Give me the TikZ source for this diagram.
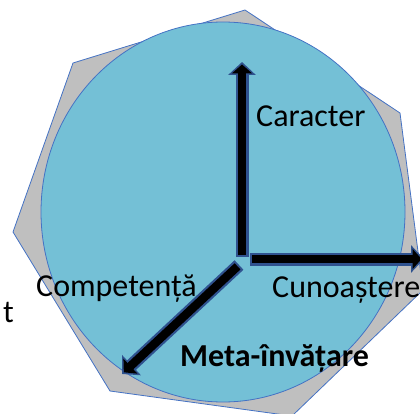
\documentclass[tikz,border=0pt]{standalone}
\usepackage{fontspec}
\setmainfont{Carlito}
\usetikzlibrary{arrows.meta}
\definecolor{wheelblue}{HTML}{74C0D6}
\definecolor{rimgray}{HTML}{BFBFBF}
\definecolor{edgeblue}{HTML}{4472C4}
\definecolor{arrowrim}{HTML}{2F528F}
\begin{document}
\begin{tikzpicture}[x=1pt, y=-1pt, font=\fontsize{32}{38}\selectfont, line join=miter,
    axisrim/.style={arrowrim, line width=13pt, -{Triangle[width=27pt,length=13pt]}},
    axisbar/.style={black, line width=8.5pt, shorten <=2pt, shorten >=2.5pt, -{Triangle[width=20pt,length=9pt]}},
    lbl/.style={anchor=base west, inner sep=0pt}]
    \useasboundingbox (0,0) rectangle (420,414);
    \clip (0,0) rectangle (420,414);
    % heptagon behind the wheel
    \draw[edgeblue, line width=0.8pt, fill=rimgray] (245,10)--(400,113)--(423,290)--(292,416)--(110,391)--(13,232)--(73,63)--cycle;
    \draw[edgeblue, line width=0.8pt, fill=wheelblue] (223,212) ellipse [x radius=182pt, y radius=190pt];
    % axes
    \coordinate (up0) at (242,257);   \coordinate (up) at (242,62);
    \coordinate (rt0) at (250,259);   \coordinate (rt) at (424,259);
    \coordinate (dl0) at (239,265);   \coordinate (dl) at (122,374);
    \foreach \a/\b in {up0/up, rt0/rt, dl0/dl} {
        \draw[axisrim] (\a)--(\b);
        \draw[axisbar] (\a)--(\b);
    }
    % labels
    \node[lbl] (caracter) at (256,127) {Caracter};
    \node[lbl] (cunoastere) at (272,297) {Cunoaștere};
    \node[lbl] (competenta) at (36,296) {Competență};
    \node[lbl, font=\fontsize{32}{38}\selectfont\bfseries] (meta) at (180,366) {Meta-învățare};
    \node[lbl] (t) at (3,322) {t};
\end{tikzpicture}
\end{document}
